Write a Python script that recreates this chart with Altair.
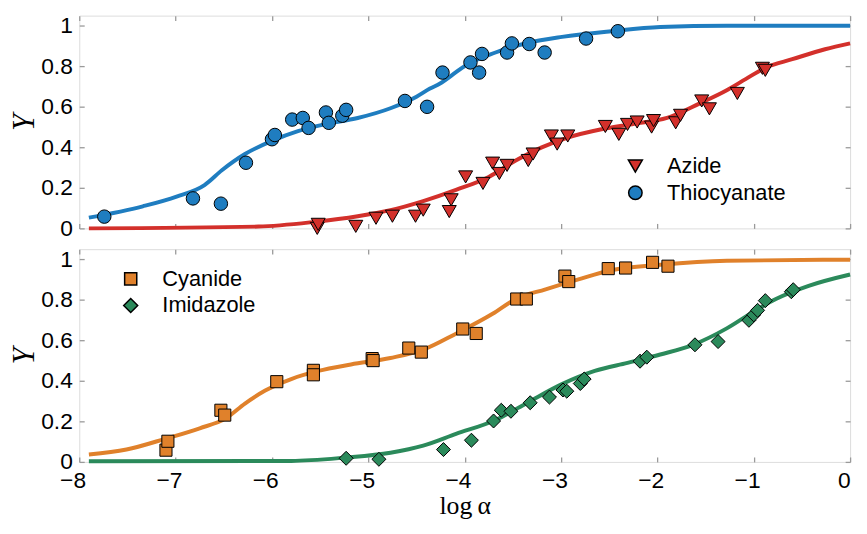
import altair as alt
import pandas as pd

# ---------------- data ----------------
# Top panel: Azide (red triangles) and Thiocyanate (blue circles)
thio_x = [-7.74, -6.82, -6.53, -6.27, -6.00, -5.97, -5.79, -5.68, -5.62, -5.44, -5.41,
          -5.27, -5.23, -4.62, -4.39, -4.23, -3.94, -3.85, -3.82, -3.56, -3.51, -3.33,
          -3.17, -2.74, -2.41]
thio_y = [0.058, 0.148, 0.122, 0.324, 0.440, 0.461, 0.537, 0.545, 0.496, 0.572, 0.521,
          0.556, 0.585, 0.629, 0.600, 0.769, 0.819, 0.769, 0.861, 0.868, 0.913, 0.910,
          0.868, 0.937, 0.973]

azide_x = [-5.53, -5.52, -5.13, -4.92, -4.75, -4.51, -4.43, -4.16, -4.14, -3.99, -3.81,
           -3.71, -3.64, -3.56, -3.34, -3.29, -3.10, -3.04, -2.93, -2.54, -2.40, -2.31,
           -2.21, -2.06, -2.04, -1.81, -1.76, -1.54, -1.46, -1.17, -0.91, -0.88]
azide_y = [0.000, 0.020, 0.010, 0.050, 0.060, 0.060, 0.090, 0.083, 0.141, 0.254, 0.222,
           0.322, 0.271, 0.311, 0.335, 0.367, 0.456, 0.416, 0.456, 0.503, 0.464, 0.513,
           0.525, 0.500, 0.532, 0.521, 0.558, 0.629, 0.590, 0.666, 0.790, 0.780]

thio_curve_x = [-7.9, -7.34, -6.99, -6.70, -6.52, -6.28, -6.00, -5.73, -5.46, -5.11, -4.77,
                -4.50, -4.36, -4.26, -4.09, -4.02, -3.68, -3.34, -2.99, -2.48, -1.97, -1.28, 0.0]
thio_curve_y = [0.053, 0.109, 0.157, 0.214, 0.287, 0.367, 0.432, 0.480, 0.513, 0.545, 0.593,
                0.650, 0.690, 0.714, 0.771, 0.795, 0.868, 0.916, 0.945, 0.973, 0.994, 1.000, 1.000]

azide_curve_x = [-7.9, -6.14, -5.56, -5.11, -4.77, -4.43, -4.09, -3.75, -3.47, -3.20, -2.93,
                 -2.58, -2.24, -1.90, -1.56, -1.28, -1.08, -0.87, -0.60, -0.26, 0.0]
azide_curve_y = [0.000, 0.009, 0.032, 0.060, 0.090, 0.135, 0.190, 0.254, 0.335, 0.400, 0.448,
                 0.489, 0.516, 0.545, 0.617, 0.682, 0.738, 0.795, 0.835, 0.884, 0.913]

# Bottom panel: Cyanide (orange squares) and Imidazole (green diamonds)
cyan_x = [-7.10, -7.08, -6.53, -6.49, -5.95, -5.57, -5.57, -4.96, -4.95, -4.58, -4.45,
          -4.02, -3.88, -3.46, -3.36, -2.96, -2.92, -2.51, -2.33, -2.05, -1.89]
cyan_y = [0.058, 0.102, 0.255, 0.231, 0.396, 0.452, 0.430, 0.510, 0.500, 0.562, 0.542,
          0.656, 0.634, 0.804, 0.804, 0.917, 0.890, 0.954, 0.957, 0.985, 0.966]

imid_x = [-5.23, -4.89, -4.22, -3.93, -3.70, -3.62, -3.52, -3.32, -3.12, -2.98, -2.94,
          -2.80, -2.76, -2.18, -2.11, -1.61, -1.37, -1.05, -1.00, -0.96, -0.88, -0.61, -0.59]
imid_y = [0.018, 0.013, 0.061, 0.107, 0.202, 0.255, 0.250, 0.292, 0.320, 0.355, 0.349,
          0.387, 0.409, 0.497, 0.517, 0.578, 0.594, 0.699, 0.726, 0.748, 0.796, 0.840, 0.850]

cyan_curve_x = [-7.9, -7.51, -7.10, -6.75, -6.48, -6.28, -6.07, -5.80, -5.52, -5.18, -4.77,
                -4.43, -4.09, -3.71, -3.47, -3.16, -2.82, -2.48, -1.97, -1.28, 0.0]
cyan_curve_y = [0.037, 0.061, 0.115, 0.166, 0.215, 0.288, 0.352, 0.409, 0.449, 0.481, 0.513,
                0.554, 0.633, 0.731, 0.804, 0.852, 0.901, 0.946, 0.973, 0.993, 0.998]

imid_curve_x = [-7.9, -5.80, -5.25, -4.77, -4.43, -4.09, -3.68, -3.34, -2.99, -2.65, -2.31,
                -1.97, -1.63, -1.28, -1.01, -0.77, -0.43, 0.0]
imid_curve_y = [0.003, 0.005, 0.021, 0.045, 0.080, 0.138, 0.207, 0.295, 0.384, 0.449, 0.489,
                0.530, 0.578, 0.659, 0.739, 0.804, 0.869, 0.925]

x_ticks = [-8, -7, -6, -5, -4, -3, -2, -1, 0]
y_ticks = [0, 0.2, 0.4, 0.6, 0.8, 1]

top_series = ["Azide", "Thiocyanate"]
top_colors = ["#d3302b", "#1f7dc0"]
top_shapes = ["triangle-down", "circle"]
top_sizes = [200, 185]

bot_series = ["Cyanide", "Imidazole"]
bot_colors = ["#e0812b", "#2b8a5b"]
bot_shapes = ["square", "diamond"]
bot_sizes = [150, 200]

PANEL_W = 779
PANEL_H = 215


def frame(xs, ys, name):
    return pd.DataFrame({"x": xs, "y": ys, "series": name})


TICK = dict(tickSize=5, offset=-5, domain=False, grid=False, tickColor="#9a9a9a",
            tickWidth=1.3, labelFont="Liberation Sans", labelFontSize=23,
            labelColor="black")
BARE = dict(labels=False, title=None, minExtent=0, maxExtent=0)


def legend(lx, ly):
    return alt.Legend(orient="none", legendX=lx, legendY=ly, title=None,
                      labelFont="Liberation Sans", labelFontSize=22, labelColor="black",
                      rowPadding=5, labelOffset=21, padding=0)


def panel(curves, points, series, colors, shapes, sizes, lx, ly, show_x):
    xs = alt.Scale(domain=[-8, 0], nice=False, zero=False)
    ys = alt.Scale(domain=[0, 1.05], nice=False, zero=False)
    if show_x:
        bottom_axis = alt.Axis(orient="bottom", values=x_ticks, format="d", labelPadding=8,
                               labelAlign="right",
                               labelOffset={"condition": {"test": "datum.value === 0",
                                                          "value": 0},
                                            "value": 6.4},
                               title="log\u2009\u03b1", titleFont="Liberation Serif",
                               titleFontSize=26, titleFontWeight="normal",
                               titleColor="black", titlePadding=0, **TICK)
    else:
        bottom_axis = alt.Axis(orient="bottom", values=x_ticks, **BARE, **TICK)
    left_axis = alt.Axis(orient="left", values=y_ticks, format="~g", labelPadding=7,
                         minExtent=44, maxExtent=44,
                         title="Y", titleFont="Liberation Serif", titleFontSize=31,
                         titleFontStyle="italic", titleFontWeight="normal",
                         titleColor="black", titlePadding=0, **TICK)
    top_axis = alt.Axis(orient="top", values=x_ticks, **BARE, **TICK)
    right_axis = alt.Axis(orient="right", values=y_ticks, **BARE, **TICK)

    layers = []
    for i, (df, c) in enumerate(zip(curves, colors)):
        if i == 0:
            enc = dict(x=alt.X("x:Q", scale=xs, axis=bottom_axis),
                       y=alt.Y("y:Q", scale=ys, axis=left_axis))
        else:
            enc = dict(x=alt.X("x:Q", scale=xs, axis=None),
                       y=alt.Y("y:Q", scale=ys, axis=None))
        layers.append(alt.Chart(df).mark_line(color=c, strokeWidth=4,
                                              interpolate="monotone").encode(**enc))

    pts = alt.Chart(points).mark_point(filled=True, stroke="black", strokeWidth=1,
                                       opacity=1).encode(
        x=alt.X("x:Q", scale=xs, axis=top_axis),
        y=alt.Y("y:Q", scale=ys, axis=right_axis),
        fill=alt.Fill("series:N", scale=alt.Scale(domain=series, range=colors),
                      legend=legend(lx, ly)),
        shape=alt.Shape("series:N", scale=alt.Scale(domain=series, range=shapes),
                        legend=legend(lx, ly)),
        size=alt.Size("series:N", scale=alt.Scale(domain=series, range=sizes),
                      legend=legend(lx, ly)),
    )
    layers.append(pts)
    return alt.layer(*layers).resolve_axis(x="independent", y="independent").properties(
        width=PANEL_W, height=PANEL_H)


top_points = pd.concat([frame(azide_x, azide_y, "Azide"),
                        frame(thio_x, thio_y, "Thiocyanate")])
bot_points = pd.concat([frame(cyan_x, cyan_y, "Cyanide"),
                        frame(imid_x, imid_y, "Imidazole")])

top = panel([frame(azide_curve_x, azide_curve_y, "Azide"),
             frame(thio_curve_x, thio_curve_y, "Thiocyanate")],
            top_points, top_series, top_colors, top_shapes, top_sizes,
            551, 141, False)
bottom = panel([frame(cyan_curve_x, cyan_curve_y, "Cyanide"),
                frame(imid_curve_x, imid_curve_y, "Imidazole")],
               bot_points, bot_series, bot_colors, bot_shapes, bot_sizes,
               41, 19, True)

chart = alt.vconcat(top, bottom, spacing=21, bounds="flush").resolve_scale(
    fill="independent", shape="independent", size="independent"
).properties(
    padding={"left": 0, "top": 3, "right": 0, "bottom": 0}
).configure_view(
    stroke="black", strokeWidth=1.3
).configure(background="white")

chart.save("out.html", embed_options={"renderer": "svg", "actions": False})
